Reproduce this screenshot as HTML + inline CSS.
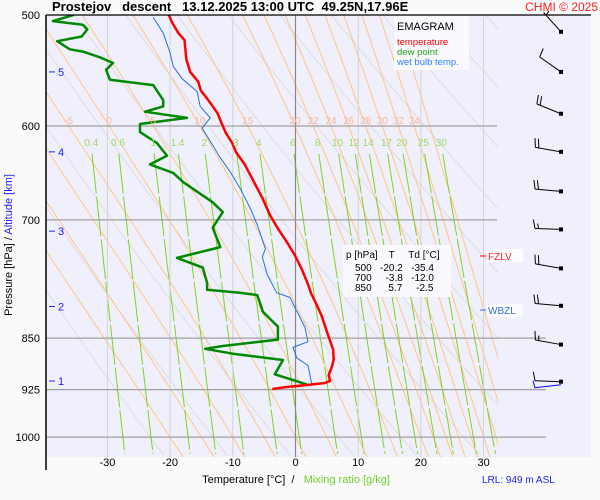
<!DOCTYPE html>
<html><head><meta charset="utf-8"><style>
body{margin:0;background:#fafafa;width:600px;height:500px;overflow:hidden;font-family:"Liberation Sans",sans-serif}
svg{display:block}
</style></head><body>
<svg id="chart" width="600" height="500" viewBox="0 0 600 500" xmlns="http://www.w3.org/2000/svg" font-family="Liberation Sans, sans-serif">
<defs><clipPath id="pc"><rect x="46" y="15" width="452" height="442"/></clipPath>
<clipPath id="pc2"><rect x="46" y="15" width="500" height="442"/></clipPath></defs>
<rect x="46" y="15" width="545" height="442" fill="#f0f0fc"/>
<g id="grid" clip-path="url(#pc)"></g>
<g id="hgrid"></g>
<g id="profiles" clip-path="url(#pc2)"></g>
<g id="labels"></g>
<g id="winds"></g>
<line x1="46" y1="15" x2="46" y2="470" stroke="#000" stroke-width="1.5"/>
<line x1="46" y1="15" x2="591" y2="15" stroke="#000" stroke-width="1.2"/>
<text x="52" y="11" font-size="13" font-weight="bold" xml:space="preserve">Prostejov   descent   13.12.2025 13:00 UTC  49.25N,17.96E</text>
<text x="598" y="11" font-size="12" fill="#ff2020" text-anchor="end">CHMI © 2025</text>
<g>
<rect x="394" y="16" width="75" height="54" fill="#fafafe"/>
<text x="397" y="30" font-size="11">EMAGRAM</text>
<text x="397" y="45" font-size="9.5" fill="#ff0000">temperature</text>
<text x="397" y="55" font-size="9.5" fill="#20a020">dew point</text>
<text x="397" y="65" font-size="9.5" fill="#3080ff">wet bulb temp.</text>
</g>
<g font-size="10">
<rect x="343" y="245" width="108" height="52" fill="#fafafe"/>
<text x="346" y="258" xml:space="preserve">p [hPa]    T     Td [°C]</text>
<text x="355" y="271" xml:space="preserve">500   -20.2   -35.4</text>
<text x="355" y="281" xml:space="preserve">700     -3.8   -12.0</text>
<text x="355" y="291" xml:space="preserve">850      5.7     -2.5</text>
</g>
<g><rect x="487" y="249" width="36" height="13" fill="#fcfcff"/><line x1="480" y1="256" x2="486" y2="256" stroke="#f00"/><text x="488" y="260" font-size="10" fill="#ff2020">FZLV</text></g>
<g><rect x="487" y="304" width="36" height="13" fill="#fcfcff"/><line x1="480" y1="310" x2="486" y2="310" stroke="#3070e0"/><text x="488" y="314" font-size="10" fill="#3070e0">WBZL</text></g>
<text transform="translate(12,245) rotate(-90)" font-size="11" text-anchor="middle">Pressure [hPa]  /  <tspan fill="#2020ff">Altitude [km]</tspan></text>
<text x="296" y="483" font-size="11" text-anchor="middle" xml:space="preserve">Temperature [°C]  /   <tspan fill="#70d030">Mixing ratio [g/kg]</tspan></text>
<text x="482" y="483" font-size="10" fill="#2020ff">LRL: 949 m ASL</text>
</svg>
<script>
const pressureTicks=[500,600,700,850,925,1000];
const tempTicks=[-30,-20,-10,0,10,20,30];
const altLabels=[5,4,3,2,1];
const altPressures=[549,626,713,807,912];
const tP=[500,506,515,521,538,549,558,566,572,580,588,597,607,617,626,639,658,675,694,710,728,742,759,778,790,805,820,841,866,880,891,903,912,915,918,921,924];
const tT=[-20.2,-19.7,-18.7,-17.7,-17.4,-16.8,-15.5,-15.1,-14.3,-13.3,-12.4,-11.8,-11.1,-10.1,-9.5,-8.1,-6.6,-5.3,-4.1,-2.8,-1.2,-0.1,1.0,2.0,2.5,3.4,4.2,5.0,6.0,6.1,5.8,5.3,5.5,4.7,1.8,-1.4,-3.7];
const dP=[500,505,508,512,518,522,529,531,536,541,547,556,561,575,581,586,592,598,606,617,630,639,648,658,680,691,709,732,745,757,776,785,789,792,814,834,852,861,865,872,881,902,917];
const dT=[-35.4,-38.7,-33.9,-33.2,-34.1,-38.0,-36.0,-33.9,-31.2,-29.1,-30.2,-29.6,-22.7,-21.1,-21.1,-24.0,-17.3,-24.8,-24.8,-22.1,-20.5,-23.2,-19.5,-17.9,-13.2,-11.6,-13.2,-12.0,-18.9,-14.8,-14.1,-14.1,-8.9,-6.1,-5.2,-2.8,-2.8,-11.6,-14.4,-10.0,-2.0,-3.3,1.8];
const wP=[502,515,532,544,555,567,581,592,602,612,632,647,665,687,706,734,744,766,789,795,803,835,855,863,878,889,917];
const wT=[-22.7,-21.1,-20.0,-19.5,-18.1,-15.7,-15.2,-13.6,-14.9,-13.9,-12.0,-10.4,-8.8,-7.2,-6.1,-4.8,-5.3,-4.5,-3.0,-0.9,-0.4,1.5,2.0,-0.4,0.2,2.0,2.6];
const mixRatios=[0.4,0.6,1,1.4,2,3,4,6,8,10,12,14,17,20,25,30];
const moistLabels=[-5,0,5,10,15,20,22,24,26,28,30,32,34];
const moistLines=[-20,-15,-10,-5,0,5,10,15,20,22,24,26,28,30,32,34,36];
const dryThetas=[250,260,270,280,290,300,310,320,330,340,350,360,370,380,390,400,410];
const windP=[514,549,588,626,668,711,758,806,859,913];
const windDir=[318,305,292,280,275,272,280,275,280,272];
const windSpd=[5,10,20,20,20,15,20,20,15,10];

const NS='http://www.w3.org/2000/svg';
const X=t=>295.5+t*6.27;
const Y=p=>15+609*Math.log(p/500);
function mk(tag,attrs,parent){const e=document.createElementNS(NS,tag);for(const k in attrs)e.setAttribute(k,attrs[k]);parent.appendChild(e);return e;}
function txt(parent,x,y,s,attrs){const e=mk('text',Object.assign({x:x,y:y},attrs||{}),parent);e.textContent=s;return e;}
const grid=document.getElementById('grid'),hg=document.getElementById('hgrid'),prof=document.getElementById('profiles'),lab=document.getElementById('labels'),wg=document.getElementById('winds');
const PMIN=500,PMAX=1035;
function es(T){return 6.112*Math.exp(17.67*T/(T+243.5));}
dryThetas.forEach(th=>{let pts=[];for(let p=PMIN;p<=PMAX;p+=10){const T=th*Math.pow(p/1000,0.286)-273.15;pts.push(X(T).toFixed(1)+','+Y(p).toFixed(1));}
const e=mk('polyline',{points:pts.join(' '),fill:'none',stroke:'#dcdce2','stroke-width':1},grid);

});
function moist(tw){let T=tw+273.15;let res=[[1000,T]];
function dTdp(p,T){const e=es(T-273.15),rs=0.622*e/(p-e),L=2.5e6,Rd=287,cp=1004;return (Rd*T+L*rs)/(p*(cp+L*L*rs*0.622/(Rd*T*T)));}
let p=1000;while(p>PMIN){T-=dTdp(p,T);p-=1;res.push([p,T]);}
T=tw+273.15;p=1000;let down=[];while(p<PMAX){T+=dTdp(p,T);p+=1;down.push([p,T]);}
return down.reverse().concat(res);}
const moistAt600={};
moistLines.forEach(tw=>{const r=moist(tw);const pts=r.filter((a,i)=>i%5==0).map(a=>X(a[1]-273.15).toFixed(1)+','+Y(a[0]).toFixed(1));
const e=mk('polyline',{points:pts.join(' '),fill:'none',stroke:'#ffc488','stroke-width':1},grid);


const a=r.find(q=>q[0]<=600);moistAt600[tw]=a[1]-273.15;});
function tmix(w,p){const e=w*p/(622+w);const L=Math.log(e/6.112);return 243.5*L/(17.67-L);}
mixRatios.forEach(w=>{let pts=[];for(let p=628;p<=PMAX;p+=10)pts.push(X(tmix(w,p)).toFixed(1)+','+Y(p).toFixed(1));
const e=mk('polyline',{points:pts.join(' '),fill:'none',stroke:'#80d020','stroke-width':1,'stroke-dasharray':'40 3'},grid);


const t=txt(lab,X(tmix(w,620)),146,String(w),{'font-size':10,fill:'#a0d860','text-anchor':'middle'});

});
moistLabels.forEach(tw=>{const t=txt(lab,X(moistAt600[tw]),124,String(tw),{'font-size':10,fill:'#f8b8a0','text-anchor':'middle'});

});
tempTicks.forEach(t=>{const e=mk('line',{x1:X(t),x2:X(t),y1:15,y2:457,stroke:t==0?'#888':'#d4d4d4','stroke-width':t==0?1.2:1},hg);


const l=txt(lab,X(t),466,String(t),{'font-size':11,'text-anchor':'middle'});

});
pressureTicks.forEach(p=>{if(p!=500){const e=mk('line',{x1:46,x2:p>=850?546:497,y1:Y(p),y2:Y(p),stroke:'#a0a0a0','stroke-width':1.2},hg);

}
const l=txt(lab,40,Y(p)+4,String(p),{'font-size':11,'text-anchor':'end'});

});
altLabels.forEach((a,i)=>{const y=Y(altPressures[i]);mk('line',{x1:49,x2:55,y1:y,y2:y,stroke:'#2020ff'},lab);
const l=txt(lab,58,y+4,String(a),{'font-size':11,fill:'#2020ff'});

});
function line(P,T,color,w,name){const pts=P.map((p,i)=>X(T[i]).toFixed(1)+','+Y(p).toFixed(1));
const e=mk('polyline',{points:pts.join(' '),fill:'none',stroke:color,'stroke-width':w,'stroke-linejoin':'round'},prof);

}
line(wP,wT,'#2070e0',1,'wet-bulb-line');
line(dP,dT,'#008800',2.5,'dew-point-line');
line(tP,tT,'#ff0000',2.5,'temperature-line');
let lastY=0;
windP.forEach((p,i)=>{const y=Y(p),x=561,d=windDir[i]*Math.PI/180;const ux=Math.sin(d),uy=-Math.cos(d);lastY=y;
const g=mk('g',{},wg);


const tx=x+ux*26,ty=y+uy*26;mk('line',{x1:x,y1:y,x2:tx,y2:ty,stroke:'#000','stroke-width':1},g);
mk('rect',{x:x-2,y:y-2,width:4,height:4,fill:'#000'},g);
let s=windSpd[i],k=0;const px=-uy,py=ux;
while(s>=10){const bx=tx-ux*k*3.5,by=ty-uy*k*3.5;mk('line',{x1:bx,y1:by,x2:bx+px*9+ux*2,y2:by+py*9+uy*2,stroke:'#000'},g);s-=10;k++;}
if(s>=5){if(k==0)k=1;const bx=tx-ux*k*3.5,by=ty-uy*k*3.5;mk('line',{x1:bx,y1:by,x2:bx+px*5+ux*1,y2:by+py*5+uy*1,stroke:'#000'},g);}
});
mk('polyline',{points:`533,${lastY-1} 535,${lastY+6} 561,${lastY+3}`,fill:'none',stroke:'#0000ff'},wg);
</script>
</body></html>
